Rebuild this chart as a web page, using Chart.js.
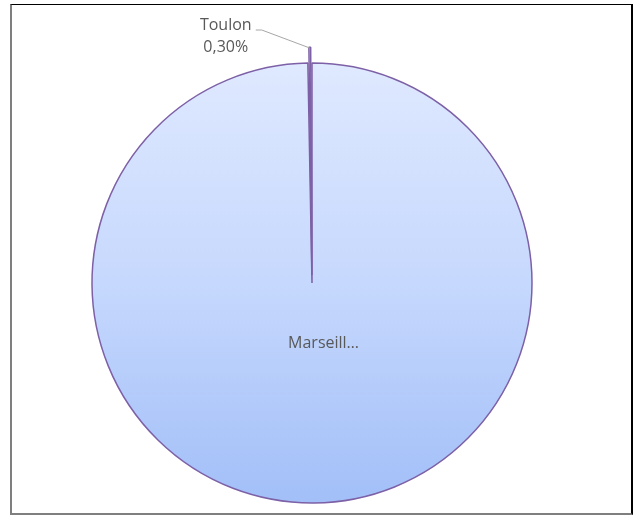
<!DOCTYPE html>
<html>
<head>
<meta charset="utf-8">
<script src="https://cdn.jsdelivr.net/npm/chart.js@4.4.0/dist/chart.umd.min.js"></script>
<style>
  body { margin: 0; background: #fff; }
  #wrap { position: relative; width: 643px; height: 517px; }
  #frame {
    position: absolute; left: 10px; top: 4px; width: 619px; height: 508px;
    border-left: 2px solid #7f7f7f; border-bottom: 2px solid #7f7f7f;
    border-top: 1px solid #000; border-right: 2px solid #000;
  }
</style>
</head>
<body>
<div id="wrap">
  <div id="frame"></div>
  <canvas id="my-chart" width="643" height="517"></canvas>
</div>
<script>
'use strict';
// data
let categories = ['Marseille', 'Toulon'];
let shares = [99.70, 0.30];

let pieRadius = 220;
let borderPurple = '#7d60a6';
let labelGray = '#595959';
// chart.js moves an arc out by half of its offset
let explode = 32;

// fill for the big slice, light at the top and darker at the bottom
function sliceFill(context) {
  if (context.dataIndex === 1) return '#f3e2f2';
  let chart = context.chart;
  let area = chart.chartArea;
  if (!area) return '#c2d5fb';
  let cy = (area.top + area.bottom) / 2;
  let g = chart.ctx.createLinearGradient(0, cy - pieRadius, 0, cy + pieRadius);
  g.addColorStop(0, '#dfe9ff');
  g.addColorStop(0.5, '#c6d8fd');
  g.addColorStop(1, '#a2bff8');
  return g;
}

function fmtPct(v) {
  return v.toFixed(2).replace('.', ',') + '%';
}

// draws the slice labels like the excel chart
let sliceLabels = {
  id: 'sliceLabels',
  afterDatasetsDraw(chart) {
    let ctx = chart.ctx;
    let meta = chart.getDatasetMeta(0);
    ctx.save();
    ctx.font = '16px "Open Sans"';
    ctx.fillStyle = labelGray;
    ctx.textBaseline = 'middle';

    // big slice: name inside, cut short
    let big = meta.data[0];
    let mid = (big.startAngle + big.endAngle) / 2;
    let name = categories[0].length > 8 ? categories[0].slice(0, 8) + '…' : categories[0];
    ctx.textAlign = 'center';
    ctx.fillText(name, big.x + Math.cos(mid) * 60 + 11, big.y + Math.sin(mid) * 60);

    // small slice: outside label with leader line
    let small = meta.data[1];
    let m2 = (small.startAngle + small.endAngle) / 2;
    let off = explode / 2;
    let px = small.x + Math.cos(m2) * (small.outerRadius + off);
    let py = small.y + Math.sin(m2) * (small.outerRadius + off);
    ctx.strokeStyle = '#a6a6a6';
    ctx.lineWidth = 1;
    ctx.beginPath();
    ctx.moveTo(px, py + 1);
    ctx.lineTo(px - 48, py - 17);
    ctx.lineTo(px - 54, py - 17);
    ctx.stroke();
    ctx.textAlign = 'center';
    ctx.fillText(categories[1], px - 84, py - 22);
    ctx.fillText(fmtPct(shares[1]), px - 84, py);
    ctx.restore();
  }
};

const ctx = document.getElementById('my-chart').getContext('2d');
const myChart = new Chart(ctx, {
  type: 'pie',
  data: {
    labels: categories,
    datasets: [{
      data: shares,
      backgroundColor: sliceFill,
      borderColor: borderPurple,
      borderWidth: 1.5,
      offset: [0, explode]
    }]
  },
  options: {
    responsive: false,
    animation: false,
    radius: pieRadius,
    layout: { padding: { left: 82, right: 101, top: 53, bottom: 4 } },
    plugins: {
      legend: { display: false },
      tooltip: { enabled: false }
    }
  },
  plugins: [sliceLabels]
});
</script>
</body>
</html>
